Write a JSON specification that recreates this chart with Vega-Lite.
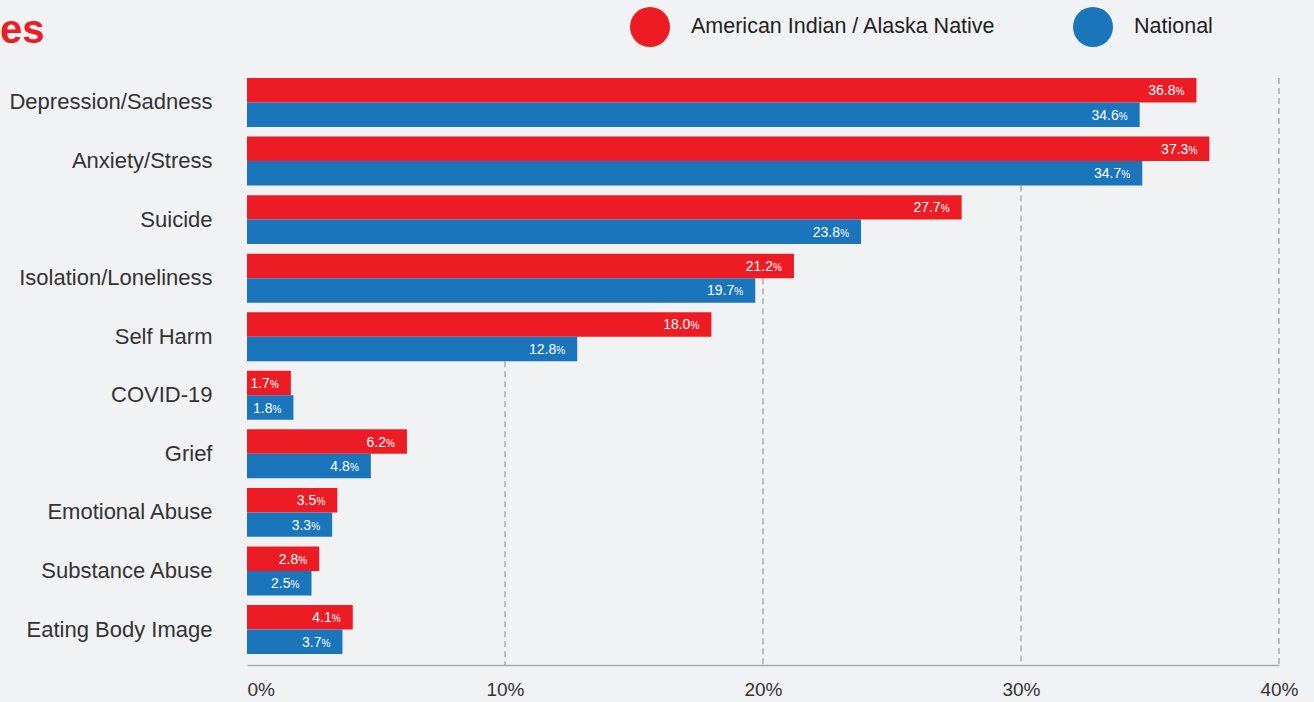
{
  "$schema": "https://vega.github.io/schema/vega-lite/v6.json",
  "width": 1032,
  "height": 598,
  "autosize": {"type": "none"},
  "padding": {"left": 247, "top": 67, "right": 35, "bottom": 37},
  "background": "#f1f2f4",
  "title": {"text": "es", "anchor": "start", "frame": "group", "dx": -247, "color": "#ED1C24", "fontSize": 40, "font": "Liberation Sans", "fontWeight": "bold", "baseline": "alphabetic", "offset": -76},
  "config": {"view": {"stroke": null}, "font": "Liberation Sans"},
  "datasets": {
    "bars": [
      {"cat": "Depression/Sadness", "group": "American Indian / Alaska Native", "value": 36.8},
      {"cat": "Depression/Sadness", "group": "National", "value": 34.6},
      {"cat": "Anxiety/Stress", "group": "American Indian / Alaska Native", "value": 37.3},
      {"cat": "Anxiety/Stress", "group": "National", "value": 34.7},
      {"cat": "Suicide", "group": "American Indian / Alaska Native", "value": 27.7},
      {"cat": "Suicide", "group": "National", "value": 23.8},
      {"cat": "Isolation/Loneliness", "group": "American Indian / Alaska Native", "value": 21.2},
      {"cat": "Isolation/Loneliness", "group": "National", "value": 19.7},
      {"cat": "Self Harm", "group": "American Indian / Alaska Native", "value": 18.0},
      {"cat": "Self Harm", "group": "National", "value": 12.8},
      {"cat": "COVID-19", "group": "American Indian / Alaska Native", "value": 1.7},
      {"cat": "COVID-19", "group": "National", "value": 1.8},
      {"cat": "Grief", "group": "American Indian / Alaska Native", "value": 6.2},
      {"cat": "Grief", "group": "National", "value": 4.8},
      {"cat": "Emotional Abuse", "group": "American Indian / Alaska Native", "value": 3.5},
      {"cat": "Emotional Abuse", "group": "National", "value": 3.3},
      {"cat": "Substance Abuse", "group": "American Indian / Alaska Native", "value": 2.8},
      {"cat": "Substance Abuse", "group": "National", "value": 2.5},
      {"cat": "Eating Body Image", "group": "American Indian / Alaska Native", "value": 4.1},
      {"cat": "Eating Body Image", "group": "National", "value": 3.7}
    ],
    "grid": [
      {"gx": 10, "cat": "Self Harm", "from": "bottom"},
      {"gx": 20, "cat": "Isolation/Loneliness", "from": "middle"},
      {"gx": 30, "cat": "Anxiety/Stress", "from": "bottom"},
      {"gx": 40, "cat": "Depression/Sadness", "from": "top"}
    ]
  },
  "layer": [
    {
      "data": {"name": "grid"},
      "transform": [{"filter": "datum.from == 'bottom'"}],
      "mark": {"type": "rule", "color": "#9a9a9a", "strokeWidth": 1.2, "strokeDash": [6, 4]},
      "encoding": {
        "x": {"field": "gx", "type": "quantitative", "scale": {"domain": [0, 40], "nice": false}},
        "y": {"field": "cat", "type": "nominal", "bandPosition": 1},
        "y2": {"value": "height"}
      }
    },
    {
      "data": {"name": "grid"},
      "transform": [{"filter": "datum.from == 'middle'"}],
      "mark": {"type": "rule", "color": "#9a9a9a", "strokeWidth": 1.2, "strokeDash": [6, 4]},
      "encoding": {
        "x": {"field": "gx", "type": "quantitative"},
        "y": {"field": "cat", "type": "nominal", "bandPosition": 0.5},
        "y2": {"value": "height"}
      }
    },
    {
      "data": {"name": "grid"},
      "transform": [{"filter": "datum.from == 'top'"}],
      "mark": {"type": "rule", "color": "#9a9a9a", "strokeWidth": 1.2, "strokeDash": [6, 4]},
      "encoding": {
        "x": {"field": "gx", "type": "quantitative"},
        "y": {"field": "cat", "type": "nominal", "bandPosition": 0},
        "y2": {"value": "height"}
      }
    },
    {
      "data": {"name": "bars"},
      "mark": {"type": "bar"},
      "encoding": {
        "y": {
          "field": "cat", "type": "nominal",
          "sort": ["Depression/Sadness", "Anxiety/Stress", "Suicide", "Isolation/Loneliness", "Self Harm", "COVID-19", "Grief", "Emotional Abuse", "Substance Abuse", "Eating Body Image"],
          "scale": {"domain": ["Depression/Sadness", "Anxiety/Stress", "Suicide", "Isolation/Loneliness", "Self Harm", "COVID-19", "Grief", "Emotional Abuse", "Substance Abuse", "Eating Body Image"], "paddingInner": 0.164, "paddingOuter": 0.188},
          "axis": {"title": null, "domain": false, "ticks": false, "labelFontSize": 22, "labelColor": "#333333", "labelPadding": 35, "labelLimit": 300, "labelFont": "Liberation Sans"}
        },
        "yOffset": {
          "field": "group", "type": "nominal",
          "scale": {"domain": ["American Indian / Alaska Native", "National"], "paddingInner": 0, "paddingOuter": 0}
        },
        "x": {
          "field": "value", "type": "quantitative",
          "scale": {"domain": [0, 40], "nice": false},
          "axis": {"title": null, "grid": false, "ticks": false, "values": [0, 10, 20, 30, 40], "domainColor": "#aaaaaa", "domainWidth": 1.5, "labelExpr": "datum.value + '%'", "labelFontSize": 19, "labelColor": "#333333", "labelPadding": 15, "labelAlign": {"condition": {"test": "datum.value == 0", "value": "left"}, "value": "center"}}
        },
        "color": {
          "field": "group", "type": "nominal",
          "scale": {"domain": ["American Indian / Alaska Native", "National"], "range": ["#ED1C24", "#1A75BB"]},
          "legend": {"title": null, "orient": "none", "legendX": 383, "legendY": -60, "direction": "horizontal", "symbolType": "circle", "symbolSize": 1600, "labelFontSize": 21.5, "labelColor": "#222222", "labelOffset": 21, "labelLimit": 400, "columnPadding": 77, "padding": 0, "symbolStrokeWidth": 0,
            "encode": {"symbols": {"update": {"fill": {"signal": "datum.label == 'National' ? '#0077C8' : '#ED1C24'"}}}}}
        }
      }
    },
    {
      "data": {"name": "bars"},
      "mark": {"type": "text", "color": "white", "align": "right", "baseline": "alphabetic", "dx": -21, "dy": 5, "fontSize": 14},
      "encoding": {
        "y": {"field": "cat", "type": "nominal"},
        "yOffset": {"field": "group", "type": "nominal"},
        "x": {"field": "value", "type": "quantitative"},
        "text": {"field": "value", "type": "quantitative", "format": ".1f"}
      }
    },
    {
      "data": {"name": "bars"},
      "mark": {"type": "text", "color": "white", "align": "right", "baseline": "alphabetic", "dx": -12, "dy": 5, "fontSize": 10, "text": "%"},
      "encoding": {
        "y": {"field": "cat", "type": "nominal"},
        "yOffset": {"field": "group", "type": "nominal"},
        "x": {"field": "value", "type": "quantitative"}
      }
    }
  ]
}
